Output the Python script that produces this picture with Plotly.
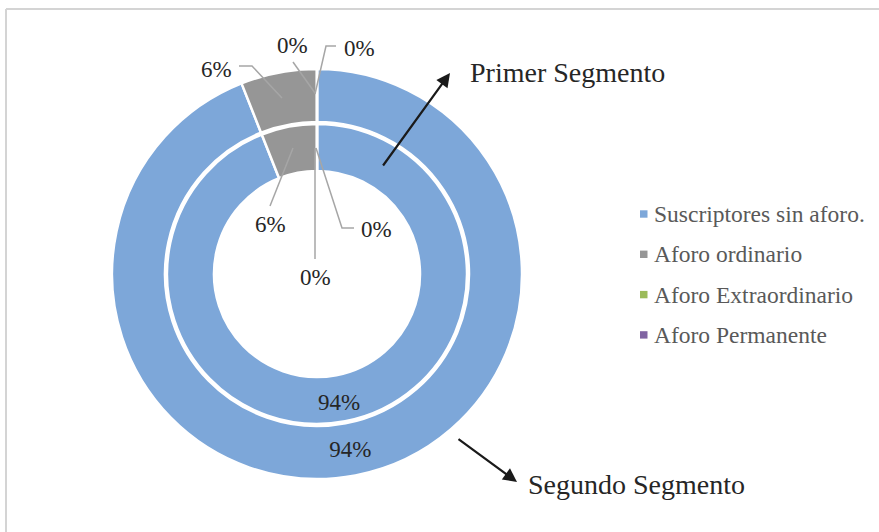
import plotly.graph_objects as go

# ---- data -------------------------------------------------------------
categorias = ["Suscriptores sin aforo.", "Aforo ordinario",
              "Aforo Extraordinario", "Aforo Permanente"]
primer_segmento = [94, 6, 0, 0]      # inner ring
segundo_segmento = [94, 6, 0, 0]     # outer ring
colores = ["#7DA7D9", "#969696", "#9BBB59", "#8064A2"]

# ---- layout helpers ---------------------------------------------------
W, H = 879, 532
CX, CY = 317, 274
FONT = "Liberation Serif"
TXT = "#262626"
LEADER = "#A6A6A6"
PCT_SIZE = 23


def px(x):
    return x / W


def py(y):
    return 1 - y / H


def dominio(r):
    return dict(x=[px(CX - r), px(CX + r)], y=[py(CY + r), py(CY - r)])


def anillo(valores, radio, hueco, nombre, posiciones):
    return go.Pie(
        labels=categorias,
        values=valores,
        name=nombre,
        domain=dominio(radio),
        hole=hueco / radio,
        sort=False,
        direction="clockwise",
        rotation=0,
        marker=dict(colors=colores, line=dict(color="white", width=2.5)),
        texttemplate="%{value:.0f}%",
        textposition=posiciones,
        insidetextorientation="horizontal",
        textfont=dict(family=FONT, size=PCT_SIZE, color=TXT),
        showlegend=False,
        hoverinfo="label+value",
    )


fig = go.Figure()
fig.add_trace(anillo(segundo_segmento, 205, 152, "Segundo Segmento",
                     ["inside", "none", "none", "none"]))
fig.add_trace(anillo(primer_segmento, 150, 103, "Primer Segmento",
                     ["none", "none", "none", "none"]))

shapes = []
annotations = []

# chart frame (top and left edges)
shapes.append(dict(type="line", xref="paper", yref="paper",
                   x0=px(6), y0=py(9), x1=1, y1=py(9),
                   line=dict(color="#D4D4D4", width=2)))
shapes.append(dict(type="line", xref="paper", yref="paper",
                   x0=px(6), y0=py(9), x1=px(6), y1=0,
                   line=dict(color="#D4D4D4", width=2)))

# data labels; small slices get a leader line
etiquetas = [
    # (valores, indice, centro del texto, polilinea guia)
    (segundo_segmento, 1, (216, 69), [(239, 66), (252, 66), (282, 98)]),
    (segundo_segmento, 2, (292, 45), [(293, 62), (315, 93)]),
    (segundo_segmento, 3, (359, 48), [(336, 46), (326, 46), (315, 94)]),
    (primer_segmento, 0, (339, 402), []),
    (primer_segmento, 1, (270, 225), [(270, 206), (293, 148)]),
    (primer_segmento, 2, (315, 277), [(315, 259), (315, 148)]),
    (primer_segmento, 3, (376, 229), [(354, 228), (342, 228), (316, 148)]),
]
for valores, i, (tx, ty), guia in etiquetas:
    if guia:
        path = "M " + " L ".join(f"{px(x)},{py(y)}" for x, y in guia)
        shapes.append(dict(type="path", xref="paper", yref="paper",
                           path=path, line=dict(color=LEADER, width=1.5)))
    annotations.append(dict(text=f"{valores[i]:.0f}%", x=px(tx), y=py(ty),
                            xref="paper", yref="paper", showarrow=False,
                            xanchor="center", yanchor="middle",
                            font=dict(family=FONT, size=PCT_SIZE, color=TXT)))

# segment call-outs
for texto, cx, cy, (x0, y0), (x1, y1) in [
    ("Primer Segmento", 567, 72, (382, 167), (450, 73)),
    ("Segundo Segmento", 636, 484, (457, 438), (517, 482)),
]:
    annotations.append(dict(text="", x=px(x1), y=py(y1), xref="paper",
                            yref="paper", showarrow=True, ax=x0 - x1,
                            ay=y0 - y1, arrowhead=2, arrowsize=1.25,
                            arrowwidth=2.2, arrowcolor="#1A1A1A", standoff=0))
    annotations.append(dict(text=texto, x=px(cx), y=py(cy), xref="paper",
                            yref="paper", showarrow=False, xanchor="center",
                            yanchor="middle",
                            font=dict(family=FONT, size=28, color=TXT)))

# legend
for k, (nombre, color) in enumerate(zip(categorias, colores)):
    yc = 214 + 40.3 * k
    shapes.append(dict(type="rect", xref="paper", yref="paper",
                       x0=px(640), x1=px(647.5), y0=py(yc + 3.7),
                       y1=py(yc - 3.7), fillcolor=color,
                       line=dict(width=0)))
    annotations.append(dict(text=nombre, x=px(652), y=py(yc), xref="paper",
                            yref="paper", showarrow=False, xanchor="left",
                            yanchor="middle",
                            font=dict(family=FONT, size=23.5,
                                      color="#595959")))

fig.update_layout(
    width=W, height=H,
    margin=dict(l=0, r=0, t=0, b=0),
    paper_bgcolor="white",
    plot_bgcolor="white",
    shapes=shapes,
    annotations=annotations,
)

fig.write_html("out.html")
